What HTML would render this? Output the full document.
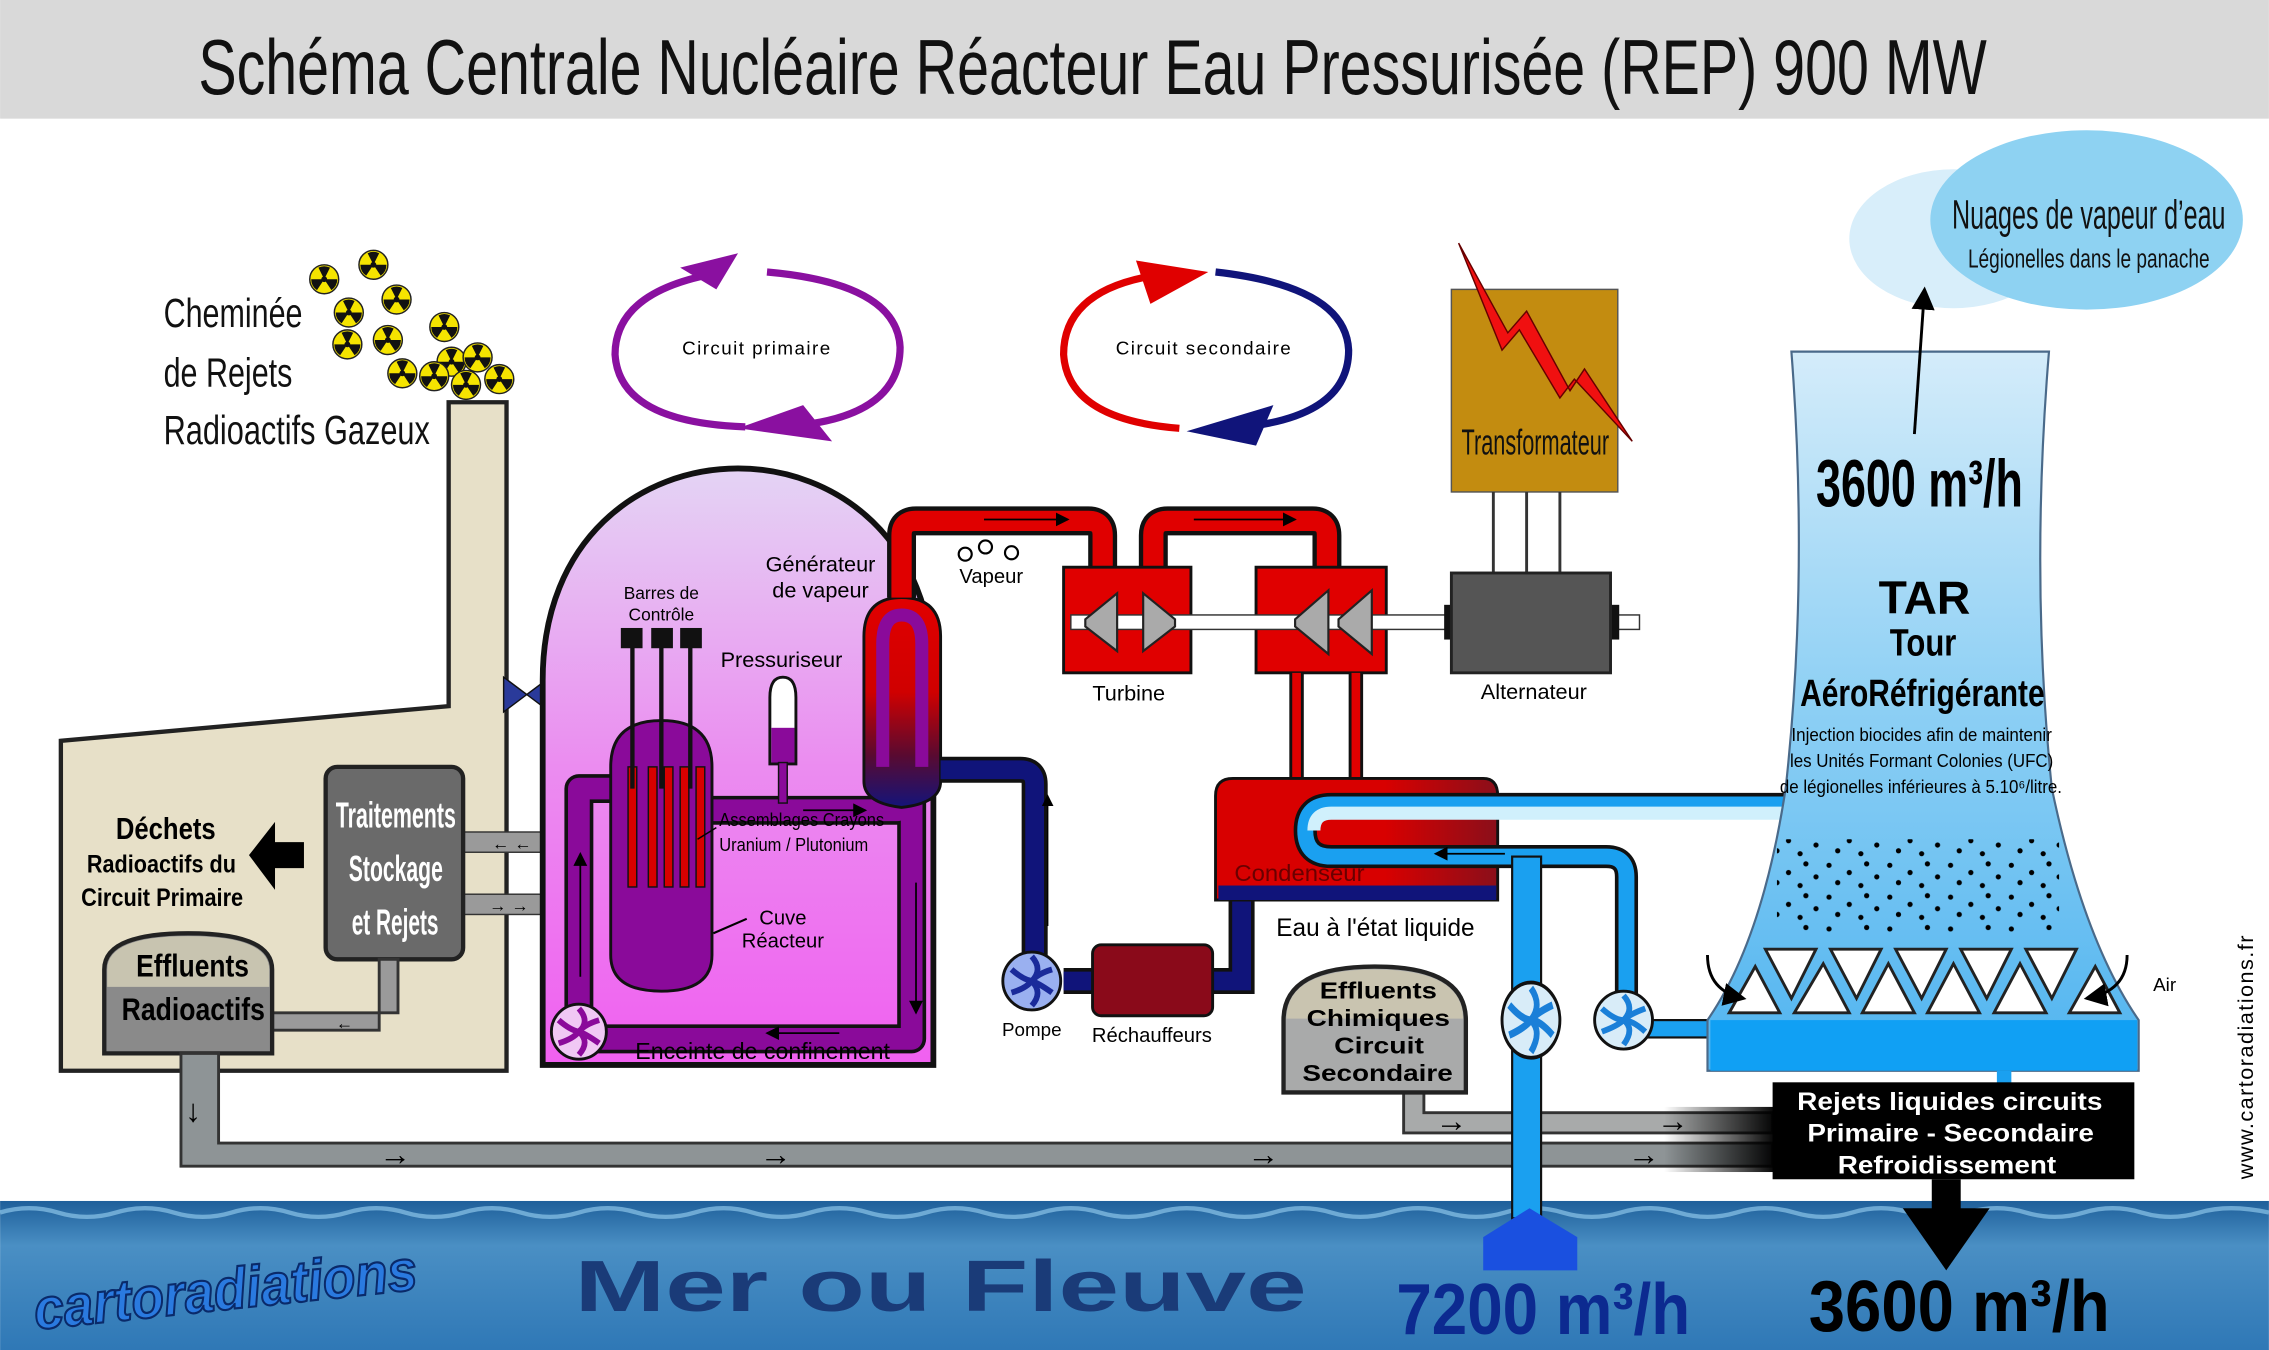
<!DOCTYPE html>
<html><head><meta charset="utf-8"><style>
html,body{margin:0;padding:0;background:#fff;}
svg{display:block;}
text{font-family:"Liberation Sans",sans-serif;}
.n{font-family:"Liberation Sans Narrow","Liberation Sans",sans-serif;}
</style></head><body>
<svg width="2269" height="1350" viewBox="0 0 1568 933" xmlns="http://www.w3.org/2000/svg">
<defs>
<linearGradient id="sea" x1="0" y1="0" x2="0" y2="1"><stop offset="0" stop-color="#1e5f9a"/><stop offset="0.3" stop-color="#4a8fc4"/><stop offset="1" stop-color="#2f78b6"/></linearGradient>
<linearGradient id="pink" x1="0" y1="0" x2="0" y2="1"><stop offset="0" stop-color="#e4d4f4"/><stop offset="0.5" stop-color="#eb8cf0"/><stop offset="1" stop-color="#f060f0"/></linearGradient>
<linearGradient id="tower" x1="0" y1="0" x2="0" y2="1"><stop offset="0" stop-color="#d4ecfa"/><stop offset="0.5" stop-color="#8ccff4"/><stop offset="1" stop-color="#50b4f0"/></linearGradient>
<linearGradient id="cond" x1="0" y1="0" x2="1" y2="0"><stop offset="0" stop-color="#d80000"/><stop offset="0.6" stop-color="#d80000"/><stop offset="1" stop-color="#8a0f1a"/></linearGradient>
<linearGradient id="sg" x1="0" y1="0" x2="0" y2="1"><stop offset="0" stop-color="#e00000"/><stop offset="0.45" stop-color="#d00000"/><stop offset="0.75" stop-color="#5a0a30"/><stop offset="1" stop-color="#14147a"/></linearGradient>
<linearGradient id="fade" x1="0" y1="0" x2="1" y2="0"><stop offset="0" stop-color="#000" stop-opacity="0"/><stop offset="1" stop-color="#000"/></linearGradient>
<pattern id="dots" width="42" height="22" patternUnits="userSpaceOnUse"><circle cx="4" cy="4" r="1.8" fill="#000"/><circle cx="18" cy="9" r="1.8" fill="#000"/><circle cx="30" cy="3" r="1.8" fill="#000"/><circle cx="10" cy="16" r="1.8" fill="#000"/><circle cx="26" cy="18" r="1.8" fill="#000"/><circle cx="37" cy="12" r="1.8" fill="#000"/></pattern>
<marker id="ah" markerWidth="8" markerHeight="8" refX="7" refY="4" orient="auto"><path d="M0,0 L8,4 L0,8 z" fill="#000"/></marker>
<g id="rad"><circle r="10" fill="#f5e400" stroke="#222" stroke-width="1"/><path d="M0,0 L-4,-8 A9,9 0 0 1 4,-8 Z M0,0 L9,0 A9,9 0 0 1 5,7.5 Z M0,0 L-5,7.5 A9,9 0 0 1 -9,0 Z" fill="#111"/><circle r="2" fill="#111"/></g>
<g id="pump"><circle r="20" fill="#d8ecf8" stroke="#111" stroke-width="2"/><path d="M0,-17 Q8,-8 0,0 M15,-8 Q4,-4 0,0 M15,8 Q6,0 0,0 M0,17 Q8,6 0,0 M-15,8 Q-4,4 0,0 M-15,-8 Q-6,0 0,0" stroke="#1a7fd8" stroke-width="4" fill="none"/></g>
</defs>

<rect width="1568" height="933" fill="#fff"/>
<rect x="0" y="0" width="1568" height="82" fill="#d9d9d9"/>
<text x="137" y="65" class="n" font-size="54" textLength="1236" lengthAdjust="spacingAndGlyphs" fill="#111">Schéma Centrale Nucléaire Réacteur Eau Pressurisée (REP) 900 MW</text>

<!-- sea -->
<rect x="0" y="830" width="1568" height="103" fill="url(#sea)"/>
<path d="M0,838 Q20,832 40,838 Q60,844 80,838 Q100,832 120,838 Q140,844 160,838 Q180,832 200,838 Q220,844 240,838 Q260,832 280,838 Q300,844 320,838 Q340,832 360,838 Q380,844 400,838 Q420,832 440,838 Q460,844 480,838 Q500,832 520,838 Q540,844 560,838 Q580,832 600,838 Q620,844 640,838 Q660,832 680,838 Q700,844 720,838 Q740,832 760,838 Q780,844 800,838 Q820,832 840,838 Q860,844 880,838 Q900,832 920,838 Q940,844 960,838 Q980,832 1000,838 Q1020,844 1040,838 Q1060,832 1080,838 Q1100,844 1120,838 Q1140,832 1160,838 Q1180,844 1200,838 Q1220,832 1240,838 Q1260,844 1280,838 Q1300,832 1320,838 Q1340,844 1360,838 Q1380,832 1400,838 Q1420,844 1440,838 Q1460,832 1480,838 Q1500,844 1520,838 Q1540,832 1568,838" stroke="#8cc4e8" stroke-width="3" fill="none" opacity="0.7"/>
<text x="397" y="906" font-size="50" font-weight="bold" fill="#1a3b78" textLength="506" lengthAdjust="spacingAndGlyphs">Mer ou Fleuve</text>
<text x="22" y="905" font-size="40" font-weight="bold" font-style="italic" fill="#2a7ae0" stroke="#0a2a6a" stroke-width="1.5" textLength="266" lengthAdjust="spacingAndGlyphs" transform="rotate(-6 155 885)">cartoradiations</text>
<text x="965" y="922" class="n" font-size="50" font-weight="bold" fill="#0c2a90" textLength="203" lengthAdjust="spacingAndGlyphs">7200 m³/h</text>
<text x="1250" y="920" class="n" font-size="50" font-weight="bold" fill="#000" textLength="208" lengthAdjust="spacingAndGlyphs">3600 m³/h</text>

<!-- radiation -->
<use href="#rad" x="224" y="193"/><use href="#rad" x="258" y="183"/><use href="#rad" x="274" y="207"/><use href="#rad" x="241" y="216"/><use href="#rad" x="240" y="238"/><use href="#rad" x="268" y="235"/><use href="#rad" x="278" y="258"/><use href="#rad" x="307" y="226"/><use href="#rad" x="312" y="250"/><use href="#rad" x="330" y="247"/><use href="#rad" x="345" y="262"/><use href="#rad" x="300" y="260"/><use href="#rad" x="322" y="266"/>
<text x="113" y="226" class="n" font-size="28" fill="#111" textLength="96" lengthAdjust="spacingAndGlyphs">Cheminée</text>
<text x="113" y="267" class="n" font-size="28" fill="#111" textLength="89" lengthAdjust="spacingAndGlyphs">de Rejets</text>
<text x="113" y="307" class="n" font-size="28" fill="#111" textLength="184" lengthAdjust="spacingAndGlyphs">Radioactifs Gazeux</text>

<!-- building -->
<path d="M42,512 L310,488 L310,278 L350,278 L350,740 L42,740 Z" fill="#e7e0c8" stroke="#222" stroke-width="3"/>
<path d="M348,468 L364,480 L348,492 Z M380,468 L364,480 L380,492 Z" fill="#2a3a9a" stroke="#111"/>
<rect x="318" y="575" width="80" height="14" fill="#9a9a9a" stroke="#333"/>
<rect x="318" y="618" width="80" height="14" fill="#9a9a9a" stroke="#333"/>
<text x="340" y="587" font-size="12">← ←</text><text x="338" y="630" font-size="12">→ →</text>
<rect x="225" y="530" width="95" height="133" rx="8" fill="#6a6a6a" stroke="#222" stroke-width="3"/>
<text x="232" y="572" class="n" font-size="25" font-weight="bold" fill="#fff" textLength="83" lengthAdjust="spacingAndGlyphs">Traitements</text>
<text x="241" y="609" class="n" font-size="25" font-weight="bold" fill="#fff" textLength="65" lengthAdjust="spacingAndGlyphs">Stockage</text>
<text x="243" y="646" class="n" font-size="25" font-weight="bold" fill="#fff" textLength="60" lengthAdjust="spacingAndGlyphs">et Rejets</text>
<path d="M172,591 L190,568 L190,582 L210,582 L210,600 L190,600 L190,615 Z" fill="#000"/>
<text x="80" y="580" class="n" font-size="21" font-weight="bold" textLength="69" lengthAdjust="spacingAndGlyphs">Déchets</text>
<text x="60" y="603" class="n" font-size="17" font-weight="bold" textLength="103" lengthAdjust="spacingAndGlyphs">Radioactifs du</text>
<text x="56" y="626" class="n" font-size="17" font-weight="bold" textLength="112" lengthAdjust="spacingAndGlyphs">Circuit Primaire</text>
<path d="M188,700 L275,700 L275,663 L262,663 L262,712 L188,712 Z" fill="#9a9a9a" stroke="#333" stroke-width="2"/>
<text x="232" y="711" font-size="12">←</text>
<path d="M72,728 L72,670 Q72,645 130,645 Q188,645 188,670 L188,728 Z" fill="#8a8a8a" stroke="#222" stroke-width="3"/>
<path d="M74,682 L74,670 Q74,647 130,647 Q186,647 186,670 L186,682 Z" fill="#c8c4b0"/>
<text x="94" y="675" class="n" font-size="22" font-weight="bold" textLength="78" lengthAdjust="spacingAndGlyphs">Effluents</text>
<text x="84" y="705" class="n" font-size="22" font-weight="bold" textLength="99" lengthAdjust="spacingAndGlyphs">Radioactifs</text>
<!-- bottom gray pipe -->
<path d="M125,728 L125,806 L1225,806 L1225,790 L151,790 L151,728 Z" fill="#8e9496" stroke="#333" stroke-width="2"/>
<path d="M970,755 L970,783 L1225,783 L1225,769 L984,769 L984,755 Z" fill="#a8aaaa" stroke="#333" stroke-width="2"/>
<rect x="1150" y="765" width="78" height="45" fill="url(#fade)"/>
<text x="128" y="775" font-size="22">↓</text>
<text x="262" y="805" font-size="22">→</text><text x="525" y="805" font-size="22">→</text><text x="862" y="805" font-size="22">→</text><text x="1125" y="805" font-size="22">→</text>
<text x="992" y="782" font-size="22">→</text><text x="1145" y="782" font-size="22">→</text>
<path d="M887,755 L887,705 Q887,668 950,668 Q1013,668 1013,705 L1013,755 Z" fill="#a9aaaa" stroke="#222" stroke-width="3"/>
<path d="M889,704 Q889,670 950,670 Q1011,670 1011,704 Z" fill="#c9c4b0"/>
<text x="912" y="690" font-size="16" font-weight="bold" textLength="81" lengthAdjust="spacingAndGlyphs">Effluents</text>
<text x="903" y="709" font-size="16" font-weight="bold" textLength="99" lengthAdjust="spacingAndGlyphs">Chimiques</text>
<text x="922" y="728" font-size="16" font-weight="bold" textLength="62" lengthAdjust="spacingAndGlyphs">Circuit</text>
<text x="900" y="747" font-size="16" font-weight="bold" textLength="104" lengthAdjust="spacingAndGlyphs">Secondaire</text>

<!-- containment -->
<path d="M375,736 L375,470 C375,275 645,275 645,470 L645,736 Z" fill="url(#pink)" stroke="#111" stroke-width="4"/>
<path d="M492,560 L620,560 L620,445 M430,545 L400,545 L400,718 L630,718 L630,520" stroke="#111" stroke-width="20" fill="none" stroke-linejoin="round"/>
<path d="M492,560 L620,560 L620,445 M430,545 L400,545 L400,718 L630,718 L630,520" stroke="#8a0a9a" stroke-width="15" fill="none" stroke-linejoin="round"/>
<path d="M597,540 L597,440 Q597,413 623,413 Q650,413 650,440 L650,540 Q650,555 623,558 Q597,555 597,540 Z" fill="url(#sg)" stroke="#111" stroke-width="2"/>
<path d="M610,530 L610,445 Q610,425 623,425 Q637,425 637,445 L637,530" stroke="#8a0a9a" stroke-width="9" fill="none"/>
<path d="M422,530 Q422,498 457,498 Q492,498 492,530 L492,660 Q492,685 457,685 Q422,685 422,660 Z" fill="#8a0a9a" stroke="#111" stroke-width="2"/>
<g fill="#d80000" stroke="#111" stroke-width="1"><rect x="434" y="530" width="6" height="83"/><rect x="448" y="530" width="6" height="83"/><rect x="459" y="530" width="6" height="83"/><rect x="470" y="530" width="6" height="83"/><rect x="481" y="530" width="6" height="83"/></g>
<g stroke="#111" stroke-width="3"><line x1="437" y1="445" x2="437" y2="545"/><line x1="457" y1="445" x2="457" y2="545"/><line x1="477" y1="445" x2="477" y2="545"/></g>
<rect x="429" y="434" width="15" height="14" fill="#111"/><rect x="450" y="434" width="15" height="14" fill="#111"/><rect x="470" y="434" width="15" height="14" fill="#111"/>
<path d="M532,528 L532,482 Q532,468 541,468 Q550,468 550,482 L550,528 Z" fill="#fff" stroke="#111" stroke-width="2"/>
<rect x="533" y="503" width="16" height="24" fill="#8a0a9a"/><rect x="538" y="527" width="6" height="28" fill="#8a0a9a" stroke="#111"/>
<circle cx="400" cy="713" r="19" fill="#f0c8f4" stroke="#111" stroke-width="2"/>
<path d="M400,697 Q408,706 400,713 M414,705 Q404,708 400,713 M414,721 Q404,714 400,713 M400,729 Q408,720 400,713 M386,721 Q396,718 400,713 M386,705 Q394,712 400,713" stroke="#8a0a9a" stroke-width="4" fill="none"/>
<line x1="401" y1="675" x2="401" y2="590" stroke="#000" stroke-width="1.2" marker-end="url(#ah)"/>
<line x1="633" y1="610" x2="633" y2="700" stroke="#000" stroke-width="1.2" marker-end="url(#ah)"/>
<line x1="555" y1="560" x2="598" y2="560" stroke="#000" stroke-width="1.2" marker-end="url(#ah)"/>
<line x1="580" y1="714" x2="530" y2="714" stroke="#000" stroke-width="1.2" marker-end="url(#ah)"/>
<text x="457" y="414" font-size="12" text-anchor="middle">Barres de</text>
<text x="457" y="429" font-size="12" text-anchor="middle">Contrôle</text>
<text x="567" y="395" font-size="15" text-anchor="middle">Générateur</text>
<text x="567" y="413" font-size="15" text-anchor="middle">de vapeur</text>
<text x="540" y="461" font-size="15" text-anchor="middle">Pressuriseur</text>
<text x="497" y="571" class="n" font-size="13" textLength="114" lengthAdjust="spacingAndGlyphs">Assemblages Crayons</text>
<text x="497" y="588" class="n" font-size="13" textLength="103" lengthAdjust="spacingAndGlyphs">Uranium / Plutonium</text>
<line x1="495" y1="572" x2="482" y2="580" stroke="#000"/>
<text x="541" y="639" font-size="14" text-anchor="middle">Cuve</text>
<text x="541" y="655" font-size="14" text-anchor="middle">Réacteur</text>
<line x1="516" y1="635" x2="493" y2="645" stroke="#000" stroke-width="1.5"/>
<text x="527" y="732" font-size="16" text-anchor="middle">Enceinte de confinement</text>

<!-- secondary blue return -->
<path d="M650,532 L705,532 Q715,532 715,542 L715,660" stroke="#111" stroke-width="18" fill="none"/>
<path d="M650,532 L705,532 Q715,532 715,542 L715,660" stroke="#10147a" stroke-width="13" fill="none"/>
<path d="M735,678 L755,678 M838,678 L858,678 L858,620" stroke="#111" stroke-width="18" fill="none"/>
<path d="M735,678 L755,678 M838,678 L858,678 L858,620" stroke="#10147a" stroke-width="13" fill="none"/>
<line x1="724" y1="640" x2="724" y2="550" stroke="#000" stroke-width="1" marker-end="url(#ah)"/>
<circle cx="713" cy="678" r="20" fill="#9ab0f0" stroke="#111" stroke-width="2"/>
<path d="M713,661 Q721,670 713,678 M727,670 Q717,673 713,678 M727,686 Q717,679 713,678 M713,695 Q721,686 713,678 M699,686 Q709,683 713,678 M699,670 Q707,677 713,678" stroke="#1a2a9a" stroke-width="4" fill="none"/>
<text x="713" y="716" font-size="13" text-anchor="middle">Pompe</text>
<rect x="755" y="653" width="83" height="49" rx="6" fill="#8a0a1a" stroke="#111" stroke-width="2"/>
<text x="796" y="720" font-size="14" text-anchor="middle">Réchauffeurs</text>

<!-- red steam pipes -->
<path d="M623,413 L623,370 Q623,360 633,360 L752,360 Q762,360 762,370 L762,395 M797,395 L797,370 Q797,360 807,360 L907,360 Q917,360 917,370 L917,395" stroke="#111" stroke-width="20" fill="none"/>
<path d="M623,413 L623,370 Q623,360 633,360 L752,360 Q762,360 762,370 L762,395 M797,395 L797,370 Q797,360 807,360 L907,360 Q917,360 917,370 L917,395" stroke="#e00000" stroke-width="14" fill="none"/>
<line x1="680" y1="359" x2="738" y2="359" stroke="#000" stroke-width="1.2" marker-end="url(#ah)"/>
<line x1="825" y1="359" x2="895" y2="359" stroke="#000" stroke-width="1.2" marker-end="url(#ah)"/>
<circle cx="667" cy="383" r="4.5" fill="#fff" stroke="#000" stroke-width="1.5"/><circle cx="681" cy="378" r="4.5" fill="#fff" stroke="#000" stroke-width="1.5"/><circle cx="699" cy="382" r="4.5" fill="#fff" stroke="#000" stroke-width="1.5"/>
<text x="685" y="403" font-size="14" text-anchor="middle">Vapeur</text>
<rect x="735" y="392" width="88" height="73" fill="#e00000" stroke="#111" stroke-width="2"/>
<rect x="868" y="392" width="90" height="73" fill="#e00000" stroke="#111" stroke-width="2"/>
<rect x="740" y="425" width="393" height="10" fill="#fff" stroke="#333"/>
<path d="M750,428 L772,410 L772,450 L750,433 Z M812,428 L790,410 L790,450 L812,433 Z M895,428 L918,408 L918,452 L895,433 Z M925,428 L948,408 L948,452 L925,433 Z" fill="#aaa" stroke="#222" stroke-width="1.5"/>
<g stroke="#111" stroke-width="10" fill="none"><line x1="896" y1="465" x2="896" y2="540"/><line x1="937" y1="465" x2="937" y2="540"/></g>
<g stroke="#e00000" stroke-width="6"><line x1="896" y1="465" x2="896" y2="540"/><line x1="937" y1="465" x2="937" y2="540"/></g>
<text x="780" y="484" font-size="15" text-anchor="middle">Turbine</text>
<!-- alternator/transformer -->
<rect x="1003" y="200" width="115" height="140" fill="#c38c10" stroke="#555"/>
<text x="1010" y="314" class="n" font-size="25" fill="#111" textLength="102" lengthAdjust="spacingAndGlyphs">Transformateur</text>
<g stroke="#333" stroke-width="2"><line x1="1032" y1="340" x2="1032" y2="396"/><line x1="1055" y1="340" x2="1055" y2="396"/><line x1="1078" y1="340" x2="1078" y2="396"/></g>
<rect x="998" y="418" width="8" height="24" fill="#111"/><rect x="1111" y="418" width="8" height="24" fill="#111"/>
<rect x="1003" y="396" width="110" height="69" fill="#555" stroke="#222" stroke-width="2"/>
<text x="1060" y="483" font-size="15" text-anchor="middle">Alternateur</text>
<path d="M1008,168 L1042,230 L1055,215 L1085,270 L1095,255 L1128,305 L1088,262 L1078,275 L1050,228 L1038,242 Z" fill="#f01010" stroke="#600" stroke-width="1"/>

<!-- condenser -->
<path d="M840,550 Q840,538 852,538 L1025,538 Q1035,538 1035,550 L1035,622 L840,622 Z" fill="url(#cond)" stroke="#111" stroke-width="2"/>
<rect x="842" y="612" width="192" height="10" fill="#10147a"/>
<text x="853" y="609" class="n" font-size="16" fill="#6a0000" textLength="90" lengthAdjust="spacingAndGlyphs">Condenseur</text>
<text x="882" y="647" class="n" font-size="17" textLength="137" lengthAdjust="spacingAndGlyphs">Eau à l'état liquide</text>

<!-- cooling loop -->
<path d="M1417,556 L920,556 Q902,556 902,574 Q902,592 920,592 L1110,592 Q1124,592 1124,606 L1124,700" stroke="#111" stroke-width="16" fill="none"/>
<path d="M1417,556 L920,556 Q902,556 902,574 Q902,592 920,592 L1110,592 Q1124,592 1124,606 L1124,700" stroke="#1aa0f0" stroke-width="11" fill="none"/>
<path d="M1415,562 L920,562 Q908,562 908,574" stroke="#d0f0fc" stroke-width="9" fill="none"/>
<line x1="1040" y1="590" x2="992" y2="590" stroke="#000" stroke-width="1.2" marker-end="url(#ah)"/>
<rect x="1045" y="592" width="20" height="250" fill="#1aa0f0" stroke="#111" stroke-width="1.5"/>
<path d="M1025,878 L1025,855 L1057,835 L1090,855 L1090,878 Z" fill="#1a50e0"/>
<rect x="1124" y="705" width="60" height="12" fill="#1aa0f0" stroke="#111" stroke-width="1.5"/>
<use href="#pump" transform="translate(1058 705) scale(1 1.3)"/>
<use href="#pump" transform="translate(1122 705)"/>

<!-- tower -->
<ellipse cx="1350" cy="165" rx="72" ry="48" fill="#d8eefa"/>
<ellipse cx="1442" cy="152" rx="108" ry="62" fill="#8ed2f2"/>
<text x="1349" y="158" class="n" font-size="28" fill="#111" textLength="189" lengthAdjust="spacingAndGlyphs">Nuages de vapeur d’eau</text>
<text x="1360" y="185" class="n" font-size="18" fill="#111" textLength="167" lengthAdjust="spacingAndGlyphs">Légionelles dans le panache</text>
<path d="M1238,243 L1416,243 Q1403,400 1418,545 Q1440,650 1478,705 L1478,740 L1180,740 L1180,705 Q1218,650 1234,545 Q1250,400 1238,243 Z" fill="url(#tower)" stroke="#4a6a8a" stroke-width="1.5"/>
<rect x="1182" y="705" width="295" height="35" fill="#10a0f4"/>
<rect x="1228" y="580" width="195" height="65" fill="url(#dots)"/>
<g fill="#fff" stroke="#222" stroke-width="2">
<path d="M1220,656 L1255,656 L1238,690 Z"/><path d="M1265,656 L1300,656 L1283,690 Z"/><path d="M1310,656 L1345,656 L1328,690 Z"/><path d="M1355,656 L1390,656 L1373,690 Z"/><path d="M1400,656 L1435,656 L1418,690 Z"/>
<path d="M1195,700 L1213,668 L1230,700 Z"/><path d="M1240,700 L1260,666 L1278,700 Z"/><path d="M1287,700 L1305,666 L1323,700 Z"/><path d="M1332,700 L1350,666 L1368,700 Z"/><path d="M1378,700 L1396,666 L1414,700 Z"/><path d="M1430,700 L1448,668 L1465,700 Z"/>
</g>
<path d="M1180,660 Q1180,685 1205,690" stroke="#000" stroke-width="2" fill="none" marker-end="url(#ah)"/>
<path d="M1470,660 Q1470,685 1442,690" stroke="#000" stroke-width="2" fill="none" marker-end="url(#ah)"/>
<text x="1488" y="685" font-size="13">Air</text>
<line x1="1323" y1="300" x2="1330" y2="200" stroke="#000" stroke-width="2" marker-end="url(#ah)"/>
<text x="1255" y="350" class="n" font-size="46" font-weight="bold" fill="#000" textLength="143" lengthAdjust="spacingAndGlyphs">3600 m³/h</text>
<text x="1330" y="424" font-size="32" font-weight="bold" text-anchor="middle">TAR</text>
<text x="1306" y="453" class="n" font-size="26" font-weight="bold" textLength="46" lengthAdjust="spacingAndGlyphs">Tour</text>
<text x="1244" y="488" class="n" font-size="26" font-weight="bold" textLength="169" lengthAdjust="spacingAndGlyphs">AéroRéfrigérante</text>
<text x="1238" y="512" class="n" font-size="13" textLength="180" lengthAdjust="spacingAndGlyphs">Injection biocides afin de maintenir</text>
<text x="1237" y="530" class="n" font-size="13" textLength="182" lengthAdjust="spacingAndGlyphs">les Unités Formant Colonies (UFC)</text>
<text x="1230" y="548" class="n" font-size="13" textLength="195" lengthAdjust="spacingAndGlyphs">de légionelles inférieures à 5.10⁶/litre.</text>
<rect x="1380" y="740" width="10" height="10" fill="#1aa0f0"/>
<rect x="1225" y="748" width="250" height="67" fill="#000"/>
<text x="1242" y="767" font-size="17" font-weight="bold" fill="#fff" textLength="211" lengthAdjust="spacingAndGlyphs">Rejets liquides circuits</text>
<text x="1249" y="789" font-size="17" font-weight="bold" fill="#fff" textLength="198" lengthAdjust="spacingAndGlyphs">Primaire - Secondaire</text>
<text x="1270" y="811" font-size="17" font-weight="bold" fill="#fff" textLength="151" lengthAdjust="spacingAndGlyphs">Refroidissement</text>
<rect x="1335" y="815" width="20" height="25" fill="#000"/>
<path d="M1315,835 L1375,835 L1345,878 Z" fill="#000"/>

<!-- circuit arrows -->
<path d="M500,188 Q425,200 425,245 Q428,292 515,295" stroke="#8a10a0" stroke-width="5" fill="none"/>
<path d="M540,295 Q622,290 622,240 Q620,196 530,188" stroke="#8a10a0" stroke-width="5" fill="none"/>
<path d="M470,185 L510,175 L495,200 Z M510,296 L575,305 L555,280 Z" fill="#8a10a0"/>
<text x="523" y="245" font-size="13" text-anchor="middle" letter-spacing="1">Circuit primaire</text>
<path d="M800,190 Q735,200 735,245 Q738,290 815,296" stroke="#e00000" stroke-width="5" fill="none"/>
<path d="M850,296 Q932,290 932,242 Q930,198 840,188" stroke="#10147a" stroke-width="5" fill="none"/>
<path d="M785,180 L835,188 L795,210 Z" fill="#e00000"/>
<path d="M820,298 L880,280 L868,308 Z" fill="#10147a"/>
<text x="832" y="245" font-size="13" text-anchor="middle" letter-spacing="1">Circuit secondaire</text>

<text x="1557" y="815" font-size="15" transform="rotate(-90 1557 815)" letter-spacing="1">www.cartoradiations.fr</text>
</svg>
</body></html>
